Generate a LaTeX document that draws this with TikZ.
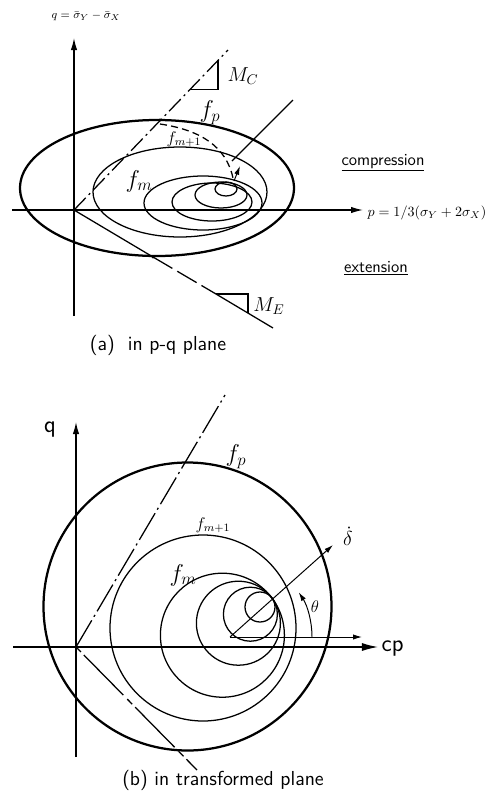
\documentclass[tikz,border=0pt]{standalone}
\usetikzlibrary{arrows.meta}

\begin{document}
\begin{tikzpicture}[
    x=0.025cm, y=-0.025cm,
    curve/.style={line width=0.9pt},
    bold curve/.style={line width=1.6pt},
    axis/.style={-{Latex[length=3mm,width=1.6mm]}, line width=0.9pt},
    thin arrow/.style={-{Latex[length=2.2mm,width=1.3mm]}, line width=0.7pt},
    dashdot line/.style={line width=0.9pt, dash pattern=on 12pt off 3pt on 1.5pt off 3pt},
    dash line/.style={line width=0.9pt, dash pattern=on 16pt off 4pt},
    every node/.style={font=\normalsize\sffamily, inner sep=1pt}
]
\useasboundingbox (0,0) rectangle (497,797);

% (a) p-q plane: axes
\coordinate (Oa) at (74,210);
\coordinate (qa bot) at (74,316);
\coordinate (qa top) at (74,38);
\coordinate (pa left) at (12,210);
\coordinate (pa right) at (363,210);
\draw[axis] (qa bot) -- (qa top);
\draw[axis] (pa left) -- (pa right);
\node (qlab) at (86,16) {\footnotesize$q=\bar{\sigma}_Y-\bar{\sigma}_X$};
\node[anchor=west] (plab) at (366,213) {$p=1/3(\sigma_Y+2\sigma_X)$};

% (a) critical state lines
\coordinate (mc end) at (228,50);
\coordinate (me cut) at (153,257);
\coordinate (me tri) at (216,294);
\coordinate (me end) at (273,328);
\draw[dashdot line] (Oa) -- (mc end);
\draw[curve] (Oa) -- (me cut);
\draw[dash line] (me cut) -- (me tri);
\draw[curve] (me tri) -- (me end);
\draw[curve] (190,89.5) -- (218,89.5) -- (218,60.4);
\draw[curve] (216,294) -- (248,294) -- (248,313);
\node[font=\Large\sffamily] (mc) at (243,76) {$M_C$};
\node[font=\Large\sffamily] (me) at (269,306) {$M_E$};
\fill (160,120) circle (1.6) (me cut) circle (1.6);

% (a) yield surfaces
\draw[bold curve] (157,188) ellipse [x radius=137, y radius=68];
\draw[curve] (180,192) ellipse [x radius=87, y radius=45];
\draw[curve] (203,203) ellipse [x radius=59, y radius=27];
\draw[curve] (212,202) ellipse [x radius=40, y radius=19];
\draw[curve] (221,195) ellipse [x radius=26, y radius=13];
\draw[curve] (226,189) ellipse [x radius=11, y radius=7];
\node[font=\LARGE\sffamily] (fpa) at (210,113) {$f_p$};
\node[font=\large\sffamily] (fma1) at (184,139) {$f_{m+1}$};
\node[font=\LARGE\sffamily] (fma) at (139,181) {$f_m$};

% (a) loading direction
\coordinate (da top) at (293,100);
\coordinate (da end) at (232,161);
\draw[curve] (da top) -- (da end);
\draw[dash line, dash pattern=on 5pt off 3pt] (160,124) .. controls (200,130) and (226,146) .. (233,178);
\draw[thin arrow] (234,181) -- (240,166);

\node[font=\large\sffamily] (comp) at (383,163) {\underline{compression}};
\node[font=\large\sffamily] (ext) at (376,268) {\underline{extension}};
\node[font=\Large\sffamily] (tita) at (158,345) {(a)\ \ in p-q plane};

% (b) transformed plane: axes
\coordinate (Ob) at (76,647);
\coordinate (qb bot) at (76,757);
\coordinate (qb top) at (76,422);
\coordinate (cp left) at (13,647);
\coordinate (cp right) at (378,647);
\draw[axis] (qb bot) -- (qb top);
\draw[axis, -{Latex[length=4mm,width=2mm]}] (cp left) -- (cp right);
\node[font=\LARGE\sffamily] (qblab) at (50,430) {q};
\node[font=\LARGE\sffamily, anchor=west] (cplab) at (380,648) {cp};

% (b) critical state lines
\coordinate (up end) at (225,395);
\coordinate (lo end) at (197,770);
\draw[dashdot line, dash pattern=on 22pt off 3pt on 1.5pt off 3pt] (Ob) -- (up end);
\draw[dash line, dash pattern=on 5pt off 3pt on 40pt off 4pt] (Ob) -- (lo end);

% (b) yield surfaces
\draw[bold curve] (187.5,606.5) circle (144);
\draw[curve] (203,628) circle (93);
\foreach \r in {62,42,27,15}
  \draw[curve] ({272-0.8*\r},{598+0.6*\r}) circle (\r);
\node[font=\LARGE\sffamily] (fpb) at (236,457) {$f_p$};
\node[font=\large\sffamily] (fmb1) at (213,525) {$f_{m+1}$};
\node[font=\LARGE\sffamily] (fmb) at (183,575) {$f_m$};

% (b) loading direction
\coordinate (Pb) at (230,637);
\coordinate (dot end) at (333,545);
\coordinate (hor end) at (362,637);
\draw[thin arrow] (Pb) -- (dot end);
\draw[thin arrow] (Pb) -- (hor end);
\draw[thin arrow] (312,637) arc[start angle=0, end angle=-33, radius=82];
\node[font=\Large] (dlab) at (348,536) {$\dot{\delta}$};
\node[font=\large] (thlab) at (315,607) {$\theta$};

\node[font=\Large\sffamily] (titb) at (223,780) {(b)\ in transformed plane};
\end{tikzpicture}
\end{document}
